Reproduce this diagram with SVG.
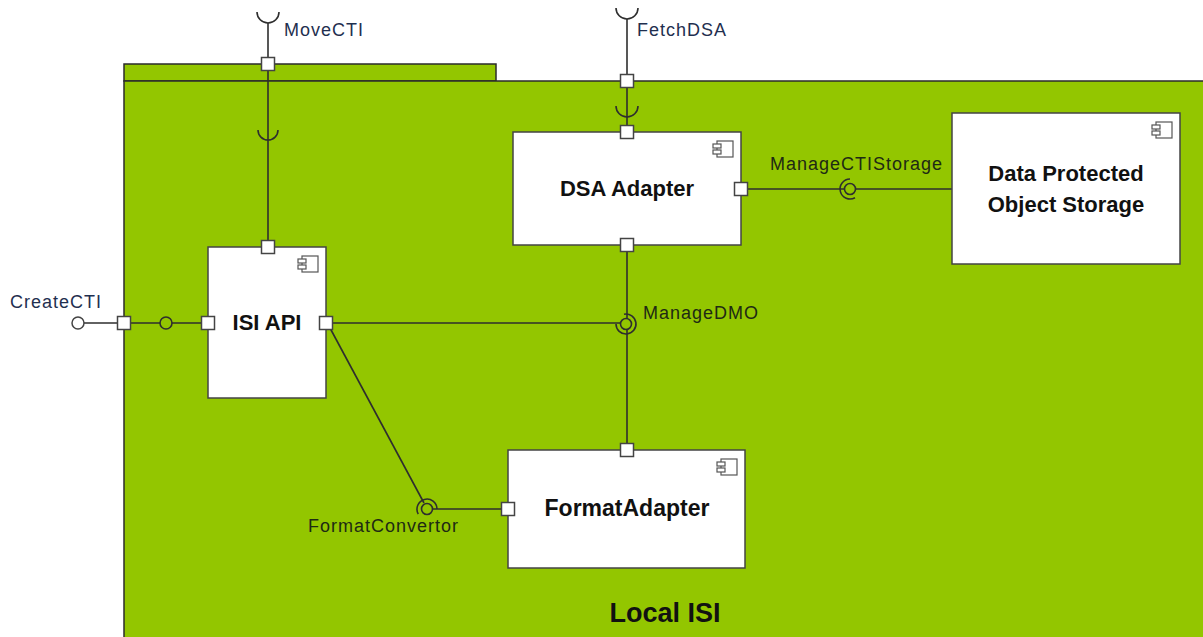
<svg xmlns="http://www.w3.org/2000/svg" xmlns:xlink="http://www.w3.org/1999/xlink" width="1203" height="637" viewBox="0 0 1203 637">
  <style>
    .pkg { fill: #93c600; stroke: #2b2b2b; stroke-width: 1.5; }
    .comp { fill: #ffffff; stroke: #444444; stroke-width: 1.5; }
    .port { fill: #ffffff; stroke: #444444; stroke-width: 1.5; }
    .wire { fill: none; stroke: #2e2e2e; stroke-width: 1.6; }
    .ball { fill: #93c600; stroke: #2e2e2e; stroke-width: 1.6; }
    .ballw { fill: #ffffff; stroke: #444444; stroke-width: 1.5; }
    .icon { fill: #ffffff; stroke: #555555; stroke-width: 1.2; }
    .title { font-family: "Liberation Sans", Arial, sans-serif; font-weight: bold; font-size: 22px; fill: #111111; text-anchor: middle; }
    .lbl { font-family: "Liberation Sans", Arial, sans-serif; font-size: 18px; letter-spacing: 1px; fill: #1e2a14; }
    .ext { fill: #1f2f4f; }
  </style>
  <defs>
    <!-- UML component glyph, anchored at the box's top-right corner -->
    <g id="compIcon">
      <rect class="icon" x="-24" y="9" width="16" height="16"/>
      <rect class="icon" x="-28" y="12" width="8" height="4"/>
      <rect class="icon" x="-28" y="18" width="8" height="4"/>
    </g>
    <rect id="portBox" class="port" x="-6.5" y="-6.5" width="13" height="13"/>
  </defs>

  <rect width="1203" height="637" fill="#ffffff"/>

  <!-- Package: Local ISI -->
  <g id="pkg-local-isi">
    <rect class="pkg" x="124" y="64" width="372" height="17"/>
    <rect class="pkg" x="124" y="81" width="1090" height="570"/>
    <text class="title" x="665" y="622" style="font-size:27px">Local ISI</text>
  </g>

  <!-- Connectors -->
  <g id="connectors">
    <!-- MoveCTI -->
    <path class="wire" d="M257,12 A11,11 0 0 0 279,12"/>
    <line class="wire" x1="268" y1="23" x2="268" y2="241"/>
    <path class="wire" d="M258,130 A10,10 0 0 0 278,130"/>
    <!-- FetchDSA -->
    <path class="wire" d="M616,8 A11,11 0 0 0 638,8"/>
    <line class="wire" x1="627" y1="19" x2="627" y2="126"/>
    <path class="wire" d="M616,106 A11,11 0 0 0 638,106"/>
    <!-- CreateCTI -->
    <line class="wire" x1="84" y1="323" x2="202" y2="323"/>
    <circle class="ballw" cx="78" cy="323" r="6"/>
    <circle class="ball" cx="166" cy="323" r="6"/>
    <!-- ManageDMO -->
    <line class="wire" x1="332" y1="323" x2="620" y2="323"/>
    <line class="wire" x1="627" y1="251" x2="627" y2="444"/>
    <circle class="ball" cx="626" cy="324" r="5.5"/>
    <path class="wire" d="M624,314.2 A10,10 0 1 1 616,324"/>
    <!-- FormatConvertor -->
    <line class="wire" x1="330" y1="328" x2="424" y2="503"/>
    <line class="wire" x1="433" y1="509" x2="502" y2="509"/>
    <circle class="ball" cx="427" cy="509" r="5.5"/>
    <path class="wire" d="M418.3,514 A10,10 0 1 1 437,509"/>
    <!-- ManageCTIStorage -->
    <line class="wire" x1="748" y1="189" x2="844" y2="189"/>
    <line class="wire" x1="855" y1="189" x2="952" y2="189"/>
    <circle class="ball" cx="850" cy="189" r="5.5"/>
    <path class="wire" d="M850,179 A10,10 0 1 0 855,197.7"/>

    <!-- boundary ports -->
    <use xlink:href="#portBox" x="268" y="64"/>
    <use xlink:href="#portBox" x="627" y="81"/>
    <use xlink:href="#portBox" x="124" y="323"/>
  </g>

  <!-- Interface labels -->
  <g id="labels">
    <text class="lbl ext" x="284" y="36">MoveCTI</text>
    <text class="lbl ext" x="637" y="36">FetchDSA</text>
    <text class="lbl ext" x="10" y="308">CreateCTI</text>
    <text class="lbl" x="770" y="170">ManageCTIStorage</text>
    <text class="lbl" x="643" y="319">ManageDMO</text>
    <text class="lbl" x="308" y="532">FormatConvertor</text>
  </g>

  <!-- ISI API -->
  <g id="isi-api">
    <rect class="comp" x="208" y="247" width="118" height="151"/>
    <use xlink:href="#compIcon" x="326" y="247"/>
    <text class="title" x="267" y="330">ISI API</text>
    <use xlink:href="#portBox" x="268" y="247"/>
    <use xlink:href="#portBox" x="208" y="323"/>
    <use xlink:href="#portBox" x="326" y="323"/>
  </g>

  <!-- DSA Adapter -->
  <g id="dsa-adapter">
    <rect class="comp" x="513" y="132" width="228" height="113"/>
    <use xlink:href="#compIcon" x="741" y="132"/>
    <text class="title" x="627" y="196">DSA Adapter</text>
    <use xlink:href="#portBox" x="627" y="132"/>
    <use xlink:href="#portBox" x="627" y="245"/>
    <use xlink:href="#portBox" x="741" y="189"/>
  </g>

  <!-- FormatAdapter -->
  <g id="format-adapter">
    <rect class="comp" x="508" y="450" width="237" height="118"/>
    <use xlink:href="#compIcon" x="745" y="450"/>
    <text class="title" x="627" y="516" style="font-size:23px">FormatAdapter</text>
    <use xlink:href="#portBox" x="627" y="450"/>
    <use xlink:href="#portBox" x="508" y="509"/>
  </g>

  <!-- Data Protected Object Storage -->
  <g id="data-protected-object-storage">
    <rect class="comp" x="952" y="113" width="228" height="151"/>
    <use xlink:href="#compIcon" x="1180" y="113"/>
    <text class="title" x="1066" y="181">Data Protected</text>
    <text class="title" x="1066" y="212">Object Storage</text>
  </g>
</svg>
